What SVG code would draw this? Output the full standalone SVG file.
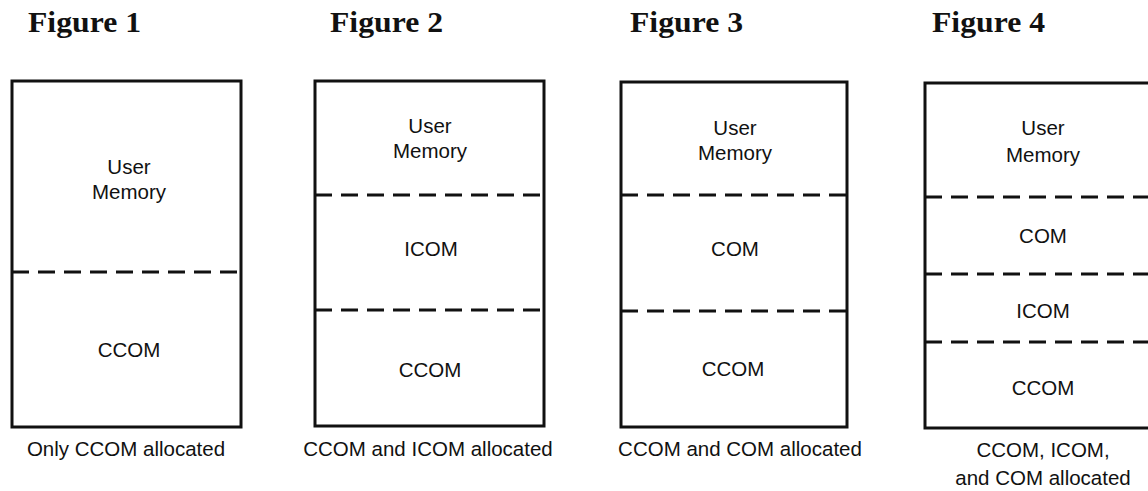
<svg xmlns="http://www.w3.org/2000/svg" width="1148" height="491" viewBox="0 0 1148 491">
  <style>
    .title { font-family: "Liberation Serif", "Times New Roman", serif; font-weight: bold; font-size: 29px; fill: #111; }
    .lbl { font-family: "Liberation Sans", Arial, sans-serif; font-size: 20.5px; fill: #111; text-anchor: middle; }
    .box { fill: none; stroke: #111; stroke-width: 3; }
    .div { stroke: #111; stroke-width: 3; stroke-dasharray: 17 9; fill: none; }
  </style>
  <rect width="1148" height="491" fill="#fff"/>

  <!-- Figure 1: only CCOM allocated -->
  <g id="fig1">
    <text class="title" x="28" y="32" textLength="113" lengthAdjust="spacingAndGlyphs">Figure 1</text>
    <rect class="box" x="12" y="81" width="229" height="346"/>
    <line class="div" x1="12" y1="272" x2="241" y2="272"/>
    <text class="lbl" x="129" y="174">User</text>
    <text class="lbl" x="129" y="199">Memory</text>
    <text class="lbl" x="129" y="357">CCOM</text>
    <text class="lbl" x="126" y="456">Only CCOM allocated</text>
  </g>

  <!-- Figure 2: CCOM and ICOM allocated -->
  <g id="fig2">
    <text class="title" x="330" y="32" textLength="113" lengthAdjust="spacingAndGlyphs">Figure 2</text>
    <rect class="box" x="315" y="81" width="229" height="345"/>
    <line class="div" x1="315" y1="195" x2="544" y2="195"/>
    <line class="div" x1="315" y1="310" x2="544" y2="310"/>
    <text class="lbl" x="430" y="133">User</text>
    <text class="lbl" x="430" y="158">Memory</text>
    <text class="lbl" x="431" y="256">ICOM</text>
    <text class="lbl" x="430" y="377">CCOM</text>
    <text class="lbl" x="428" y="456">CCOM and ICOM allocated</text>
  </g>

  <!-- Figure 3: CCOM and COM allocated -->
  <g id="fig3">
    <text class="title" x="630" y="32" textLength="113" lengthAdjust="spacingAndGlyphs">Figure 3</text>
    <rect class="box" x="621" y="82" width="226" height="345"/>
    <line class="div" x1="621" y1="195" x2="847" y2="195"/>
    <line class="div" x1="621" y1="311" x2="847" y2="311"/>
    <text class="lbl" x="735" y="135">User</text>
    <text class="lbl" x="735" y="160">Memory</text>
    <text class="lbl" x="735" y="256">COM</text>
    <text class="lbl" x="733" y="376">CCOM</text>
    <text class="lbl" x="740" y="456">CCOM and COM allocated</text>
  </g>

  <!-- Figure 4: CCOM, ICOM and COM allocated (right edge runs past the page) -->
  <g id="fig4">
    <text class="title" x="932" y="32" textLength="113" lengthAdjust="spacingAndGlyphs">Figure 4</text>
    <rect class="box" x="925" y="83" width="229" height="345"/>
    <line class="div" x1="925" y1="197" x2="1154" y2="197"/>
    <line class="div" x1="925" y1="274" x2="1154" y2="274"/>
    <line class="div" x1="925" y1="342" x2="1154" y2="342"/>
    <text class="lbl" x="1043" y="135">User</text>
    <text class="lbl" x="1043" y="162">Memory</text>
    <text class="lbl" x="1043" y="243">COM</text>
    <text class="lbl" x="1043" y="318">ICOM</text>
    <text class="lbl" x="1043" y="395">CCOM</text>
    <text class="lbl" x="1043" y="457">CCOM, ICOM,</text>
    <text class="lbl" x="1043" y="485">and COM allocated</text>
  </g>
</svg>
